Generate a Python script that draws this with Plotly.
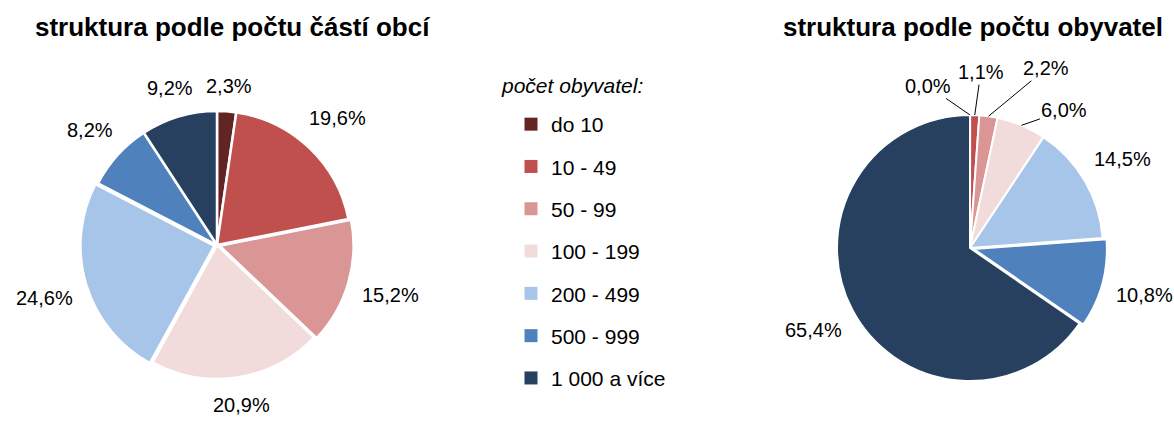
import math
import plotly.graph_objects as go

categories = ["do 10", "10 - 49", "50 - 99", "100 - 199", "200 - 499", "500 - 999", "1 000 a více"]
colors = ["#632523", "#C0504D", "#D99694", "#F2DCDB", "#A7C5E9", "#4F81BD", "#27405F"]
parts_share = [2.3, 19.6, 15.2, 20.9, 24.6, 8.2, 9.2]          # struktura podle počtu částí obcí (%)
population_share = [0.02, 1.1, 2.2, 6.0, 14.5, 10.8, 65.4]     # struktura podle počtu obyvatel (%)
pull_left = [0, 0, 0.02, 0, 0.02, 0, 0]
pull_right = [0, 0, 0, 0, 0, 0.03, 0]
# pixel offsets for leader-line labels of the small slices (right pie): index -> (dx, dy)
leader_offsets_right = {0: (-42, -29), 1: (6, -43), 2: (58, -48), 3: (43, -15)}

FONT = "Arial, Liberation Sans, sans-serif"
W, H = 1174, 421
LABEL_SIZE = 20
LEFT = dict(cx=217, cy=245, r=134)
RIGHT = dict(cx=970, cy=248, r=133)


def fmt(v):
    return f"{v:.1f}".replace(".", ",") + "%"


def text_w(s, size):
    widths = {",": 0.278, "%": 0.889}
    return sum(widths.get(ch, 0.556) for ch in s) * size


def dom(g, pull):
    half = g["r"] * (1 + max(pull))
    return dict(x=[(g["cx"] - half) / W, (g["cx"] + half) / W],
                y=[(H - g["cy"] - half) / H, (H - g["cy"] + half) / H])


def slice_labels(values, g, pull, leaders=None, gap=14):
    leaders = leaders or {}
    total = sum(values)
    cum = 0.0
    anns = []
    for i, v in enumerate(values):
        mid = math.radians((cum + v / 2) / total * 360)
        cum += v
        s, c = math.sin(mid), math.cos(mid)
        txt = fmt(v)
        if i in leaders:
            tip_r = g["r"] * (1 + pull[i])
            dx, dy = leaders[i]
            anns.append(dict(
                x=(g["cx"] + tip_r * s) / W, y=1 - (g["cy"] - tip_r * c) / H,
                xref="paper", yref="paper", text=txt, showarrow=True,
                ax=dx, ay=dy, axref="pixel", ayref="pixel",
                arrowhead=0, arrowwidth=1, arrowcolor="#000000", standoff=0,
                font=dict(family=FONT, size=LABEL_SIZE, color="black"),
            ))
        else:
            w = text_w(txt, LABEL_SIZE)
            d = g["r"] * (1 + pull[i]) + gap + (w / 2) * abs(s) + (LABEL_SIZE / 2) * abs(c)
            anns.append(dict(
                x=(g["cx"] + d * s) / W, y=1 - (g["cy"] - d * c) / H,
                xref="paper", yref="paper", text=txt, showarrow=False,
                xanchor="center", yanchor="middle",
                font=dict(family=FONT, size=LABEL_SIZE, color="black"),
            ))
    return anns


fig = go.Figure()

fig.add_trace(go.Pie(
    labels=categories, values=parts_share, textinfo="none", sort=False,
    direction="clockwise", rotation=0,
    marker=dict(colors=colors, line=dict(color="white", width=2.5)), pull=pull_left,
    domain=dom(LEFT, pull_left), showlegend=False,
))

fig.add_trace(go.Pie(
    labels=categories, values=population_share, textinfo="none", sort=False,
    direction="clockwise", rotation=0,
    marker=dict(colors=colors, line=dict(color="white", width=2)), pull=pull_right,
    domain=dom(RIGHT, pull_right), showlegend=False,
))

for i, (c, col) in enumerate(zip(categories, colors)):
    fig.add_trace(go.Scatter(
        x=[None], y=[None], mode="markers", name=c, legendgroup=f"g{i}",
        marker=dict(symbol="square", size=13, color=col), showlegend=True,
    ))

annotations = [
    dict(text="<b>struktura podle počtu částí obcí</b>", x=233 / W, y=1 - 27 / H,
         xref="paper", yref="paper", xanchor="center", yanchor="middle", showarrow=False,
         font=dict(family=FONT, size=26, color="black")),
    dict(text="<b>struktura podle počtu obyvatel</b>", x=973 / W, y=1 - 27 / H,
         xref="paper", yref="paper", xanchor="center", yanchor="middle", showarrow=False,
         font=dict(family=FONT, size=26, color="black")),
    dict(text="<i>počet obyvatel:</i>", x=499 / W, y=1 - 85 / H,
         xref="paper", yref="paper", xanchor="left", yanchor="middle", showarrow=False,
         font=dict(family=FONT, size=21, color="black")),
]
annotations += slice_labels(parts_share, LEFT, pull_left)
annotations += slice_labels(population_share, RIGHT, pull_right, leaders=leader_offsets_right)

fig.update_layout(
    width=W, height=H,
    margin=dict(l=0, r=0, t=0, b=0),
    paper_bgcolor="white", plot_bgcolor="white",
    xaxis=dict(visible=False), yaxis=dict(visible=False),
    font=dict(family=FONT, color="black"),
    legend=dict(
        x=511 / W, y=1 - 104 / H, xanchor="left", yanchor="top",
        font=dict(family=FONT, size=21, color="black"),
        tracegroupgap=12, bgcolor="rgba(0,0,0,0)",
    ),
    annotations=annotations,
)

fig.write_html("out.html", config={"displayModeBar": False},
               post_script="document.body.style.margin='0';")
